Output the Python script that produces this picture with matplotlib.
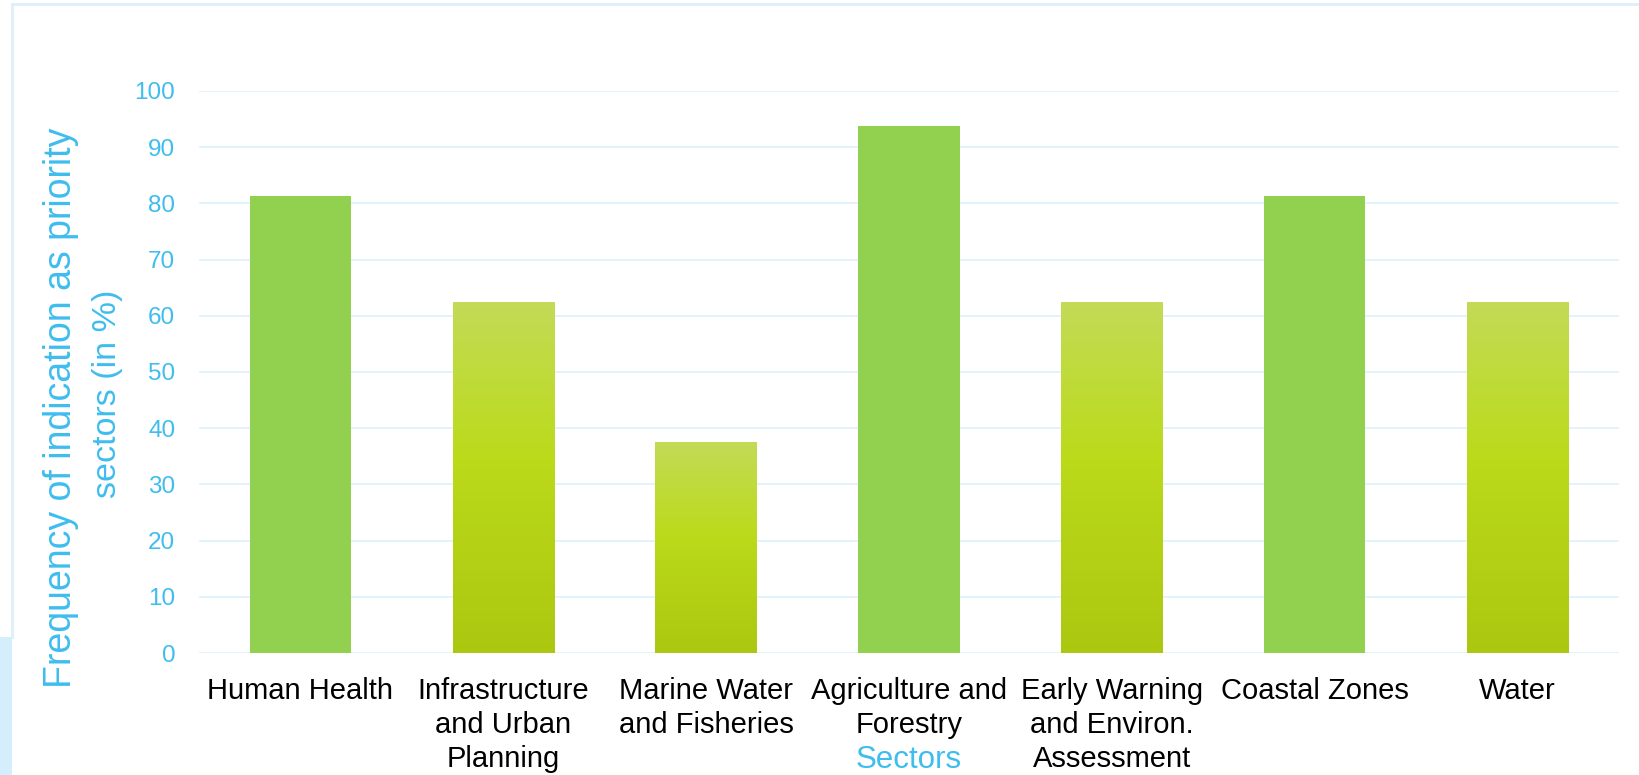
import matplotlib
matplotlib.use("Agg")
import matplotlib.pyplot as plt
from matplotlib.colors import LinearSegmentedColormap
from matplotlib.patches import Rectangle
import numpy as np

sectors = ["Human Health", "Infrastructure\nand Urban\nPlanning", "Marine Water\nand Fisheries",
           "Agriculture and\nForestry", "Early Warning\nand Environ.\nAssessment", "Coastal Zones", "Water"]
values = [81.25, 62.5, 37.5, 93.75, 62.5, 81.25, 62.5]
gradient_bar = [False, True, True, False, True, False, True]

blue = "#3EBDEE"
plt.rcParams["font.family"] = ["Liberation Sans", "DejaVu Sans"]

fig = plt.figure(figsize=(16.39, 7.75), dpi=100)
ax = fig.add_axes([0.1214, 0.1574, 0.8664, 0.7252])

# frame decorations around the chart area
fig.add_artist(plt.Line2D([12 / 1639, 1], [1 - 4 / 775, 1 - 4 / 775], color="#DDF0FA", lw=2))
fig.add_artist(plt.Line2D([12 / 1639, 12 / 1639], [1 - 4 / 775, 1 - 637 / 775], color="#DDF0FA", lw=2))
fig.add_artist(Rectangle((0, 0), 12 / 1639, 1 - 637 / 775, transform=fig.transFigure,
                         color="#D4EEFB", lw=0))

x = np.arange(len(sectors))
bars = ax.bar(x, values, width=0.5, color="#92D050", zorder=2)

cmap = LinearSegmentedColormap.from_list("lime", [(0, "#ACC710"), (0.55, "#BBDA1A"), (1, "#C3DB56")])
grad = np.linspace(0, 1, 256).reshape(-1, 1)
for bar, use_grad in zip(bars, gradient_bar):
    if not use_grad:
        continue
    bar.set_facecolor("none")
    x0, w, h = bar.get_x(), bar.get_width(), bar.get_height()
    im = ax.imshow(grad, extent=[x0, x0 + w, 0, h], origin="lower", aspect="auto",
                   cmap=cmap, zorder=2)
    im.set_clip_path(bar)

ax.set_xlim(-0.5, len(sectors) - 0.5)
ax.set_ylim(0, 100)
ax.set_yticks(range(0, 101, 10))
ax.yaxis.grid(True, color="#E1F2FB", lw=1.3, zorder=0)
ax.set_axisbelow(True)
for s in ax.spines.values():
    s.set_visible(False)

ax.set_xticks(x)
ax.set_xticklabels(sectors, fontsize=21, linespacing=1.27)
ax.tick_params(axis="x", length=0, pad=17, colors="black")
ax.tick_params(axis="y", length=0, pad=17, labelsize=17.5, labelcolor=blue)

ax.text(0.5, -0.19, "Sectors", transform=ax.transAxes, ha="center", va="center",
        fontsize=22.5, color=blue)
fig.text(61 / 1639, 1 - 408 / 775, "Frequency of indication as priority", rotation=90,
         ha="center", va="center", fontsize=27, color=blue)
fig.text(108 / 1639, 1 - 394 / 775, "sectors (in %)", rotation=90,
         ha="center", va="center", fontsize=24.5, color=blue)

fig.savefig("out.png", dpi=100)
